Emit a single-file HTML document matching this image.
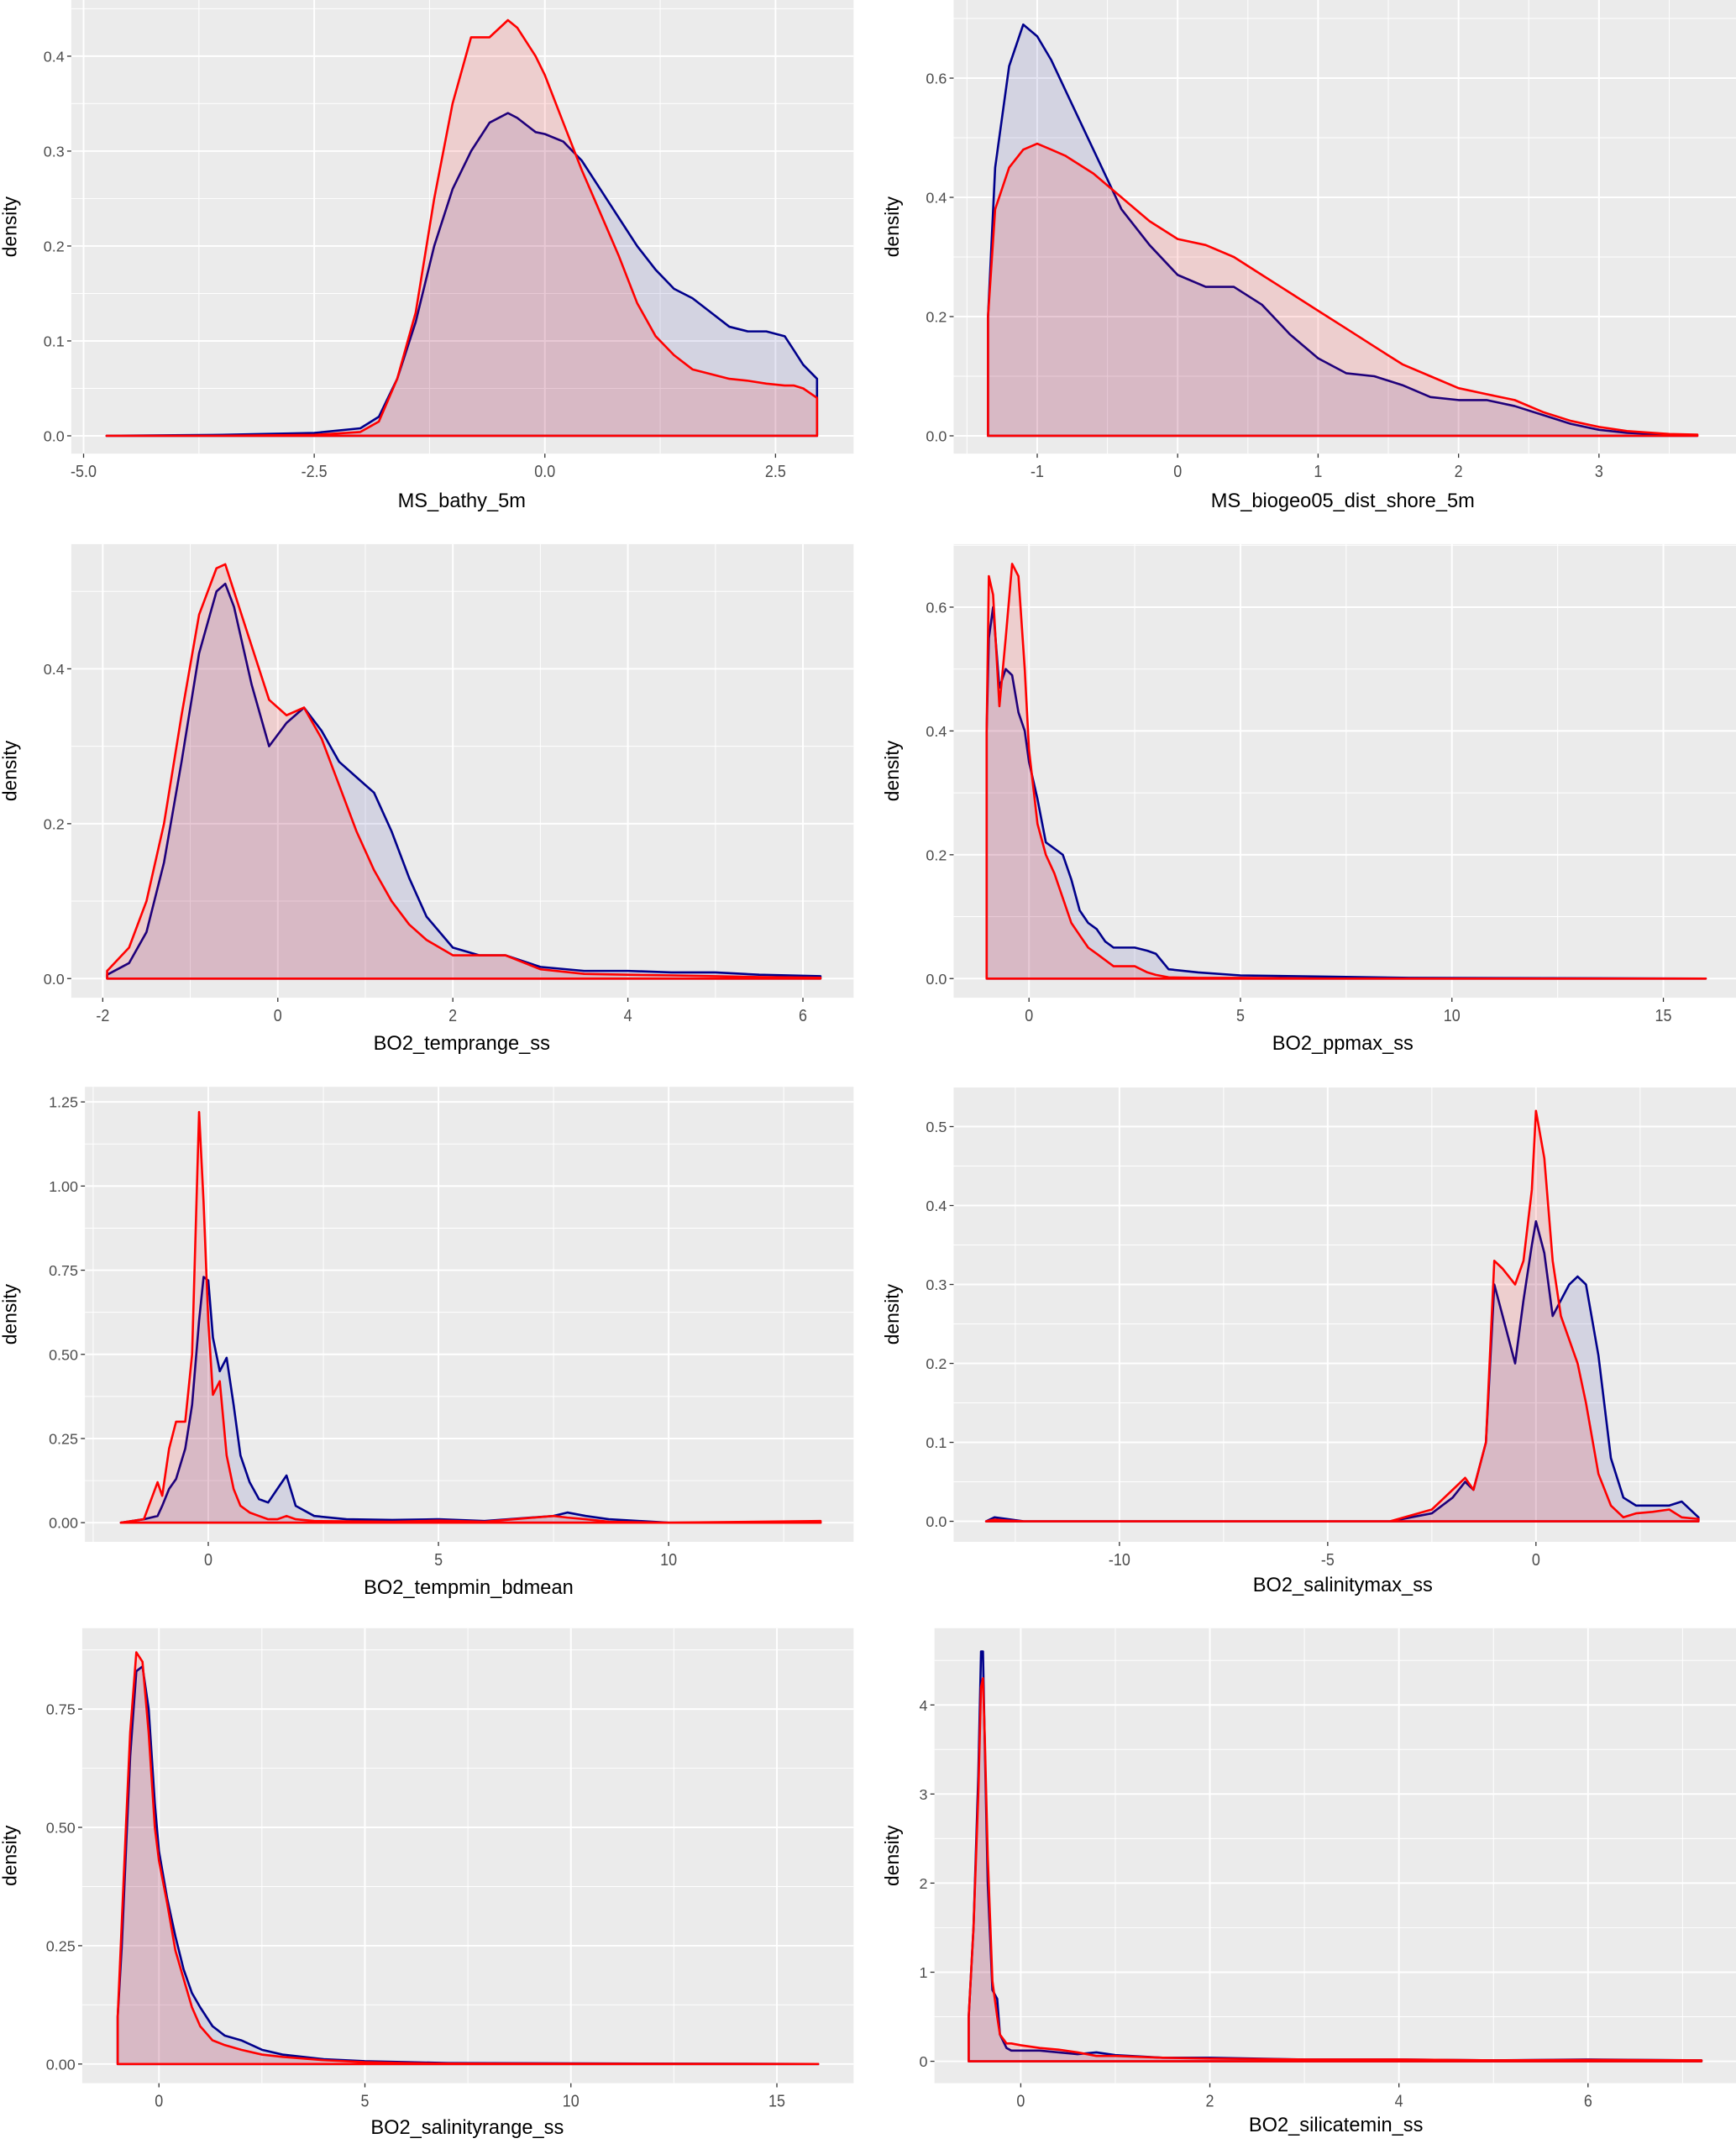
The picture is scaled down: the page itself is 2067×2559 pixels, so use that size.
<!DOCTYPE html>
<html><head><meta charset="utf-8"><style>
html,body{margin:0;padding:0;background:#fff;}
svg{display:block;}
text{font-family:"Liberation Sans",sans-serif;}
</style></head><body>
<svg id="chart" width="2067" height="2559" viewBox="0 0 1267 1568" preserveAspectRatio="none" xmlns="http://www.w3.org/2000/svg"></svg>
<script>
// ---- data (one set of small arrays per panel) ----
const p1X=[-4.75,-3.5,-2.5,-2.0,-1.8,-1.6,-1.4,-1.2,-1.0,-0.8,-0.6,-0.4,-0.3,-0.1,0.0,0.2,0.4,0.6,0.8,1.0,1.2,1.4,1.6,1.8,2.0,2.2,2.4,2.6,2.7,2.8,2.95];
const p1Blue=[0,0.001,0.003,0.008,0.02,0.06,0.12,0.2,0.26,0.3,0.33,0.34,0.335,0.32,0.318,0.31,0.29,0.26,0.23,0.2,0.175,0.155,0.145,0.13,0.115,0.11,0.11,0.105,0.09,0.075,0.06];
const p1Red=[0,0,0.001,0.004,0.015,0.06,0.13,0.25,0.35,0.42,0.42,0.438,0.43,0.4,0.38,0.33,0.28,0.235,0.19,0.14,0.105,0.085,0.07,0.065,0.06,0.058,0.055,0.053,0.053,0.05,0.04];
const p1XTicks=[-5,-2.5,0,2.5]; const p1XLabels=["-5.0","-2.5","0.0","2.5"];
const p1YTicks=[0,0.1,0.2,0.3,0.4]; const p1YLabels=["0.0","0.1","0.2","0.3","0.4"];

const p2X=[-1.35,-1.3,-1.2,-1.1,-1.0,-0.9,-0.8,-0.6,-0.4,-0.2,0,0.2,0.4,0.6,0.8,1.0,1.2,1.4,1.6,1.8,2.0,2.2,2.4,2.6,2.8,3.0,3.2,3.5,3.7];
const p2Blue=[0.2,0.45,0.62,0.69,0.67,0.63,0.58,0.48,0.38,0.32,0.27,0.25,0.25,0.22,0.17,0.13,0.105,0.1,0.085,0.065,0.06,0.06,0.05,0.035,0.02,0.01,0.005,0.002,0];
const p2Red=[0.2,0.38,0.45,0.48,0.49,0.48,0.47,0.44,0.4,0.36,0.33,0.32,0.3,0.27,0.24,0.21,0.18,0.15,0.12,0.1,0.08,0.07,0.06,0.04,0.025,0.015,0.008,0.003,0.002];
const p2XTicks=[-1,0,1,2,3]; const p2XLabels=["-1","0","1","2","3"];
const p2YTicks=[0,0.2,0.4,0.6]; const p2YLabels=["0.0","0.2","0.4","0.6"];

const p3X=[-1.95,-1.7,-1.5,-1.3,-1.1,-0.9,-0.7,-0.6,-0.5,-0.3,-0.1,0.1,0.3,0.5,0.7,0.9,1.1,1.3,1.5,1.7,2.0,2.3,2.6,3.0,3.5,4.0,4.5,5.0,5.5,6.2];
const p3Blue=[0.005,0.02,0.06,0.15,0.28,0.42,0.5,0.51,0.48,0.38,0.3,0.33,0.35,0.32,0.28,0.26,0.24,0.19,0.13,0.08,0.04,0.03,0.03,0.015,0.01,0.01,0.008,0.008,0.005,0.003];
const p3Red=[0.01,0.04,0.1,0.2,0.34,0.47,0.53,0.535,0.5,0.43,0.36,0.34,0.35,0.31,0.25,0.19,0.14,0.1,0.07,0.05,0.03,0.03,0.03,0.012,0.006,0.005,0.004,0.003,0.002,0.001];
const p3XTicks=[-2,0,2,4,6]; const p3XLabels=["-2","0","2","4","6"];
const p3YTicks=[0,0.2,0.4]; const p3YLabels=["0.0","0.2","0.4"];

const p4X=[-1,-0.95,-0.85,-0.7,-0.55,-0.4,-0.25,-0.1,0,0.2,0.4,0.6,0.8,1.0,1.2,1.4,1.6,1.8,2.0,2.5,2.8,3.0,3.3,4,5,7,9,16];
const p4Blue=[0.4,0.55,0.6,0.47,0.5,0.49,0.43,0.4,0.35,0.29,0.22,0.21,0.2,0.16,0.11,0.09,0.08,0.06,0.05,0.05,0.045,0.04,0.015,0.01,0.005,0.003,0.001,0];
const p4Red=[0.4,0.65,0.62,0.44,0.55,0.67,0.65,0.5,0.37,0.25,0.2,0.17,0.13,0.09,0.07,0.05,0.04,0.03,0.02,0.02,0.01,0.006,0.002,0.001,0.001,0,0,0];
const p4XTicks=[0,5,10,15]; const p4XLabels=["0","5","10","15"];
const p4YTicks=[0,0.2,0.4,0.6]; const p4YLabels=["0.0","0.2","0.4","0.6"];

const p5X=[-1.9,-1.4,-1.1,-1.0,-0.85,-0.7,-0.5,-0.35,-0.2,-0.1,0,0.1,0.25,0.4,0.55,0.7,0.9,1.1,1.3,1.5,1.7,1.9,2.3,3,4,5,6,7.5,7.8,8.2,8.7,10,13.3];
const p5Blue=[0,0.01,0.02,0.05,0.1,0.13,0.22,0.35,0.6,0.73,0.72,0.55,0.45,0.49,0.35,0.2,0.12,0.07,0.06,0.1,0.14,0.05,0.02,0.01,0.008,0.01,0.005,0.02,0.03,0.02,0.01,0,0];
const p5Red=[0,0.01,0.12,0.08,0.22,0.3,0.3,0.5,1.22,0.95,0.6,0.38,0.42,0.2,0.1,0.05,0.03,0.02,0.01,0.01,0.02,0.01,0.005,0.004,0.003,0.006,0.003,0.02,0.015,0.01,0.003,0,0.005];
const p5XTicks=[0,5,10]; const p5XLabels=["0","5","10"];
const p5YTicks=[0,0.25,0.5,0.75,1.0,1.25]; const p5YLabels=["0.00","0.25","0.50","0.75","1.00","1.25"];

const p6X=[-13.2,-13,-12.7,-12.3,-3.5,-2.5,-2,-1.7,-1.5,-1.2,-1.0,-0.8,-0.5,-0.3,-0.1,0,0.2,0.4,0.6,0.8,1.0,1.2,1.5,1.8,2.1,2.4,2.8,3.2,3.5,3.9];
const p6Blue=[0,0.005,0.003,0,0,0.01,0.03,0.05,0.04,0.1,0.3,0.26,0.2,0.28,0.35,0.38,0.34,0.26,0.28,0.3,0.31,0.3,0.21,0.08,0.03,0.02,0.02,0.02,0.025,0.005];
const p6Red=[0,0.002,0.001,0,0,0.015,0.04,0.055,0.04,0.1,0.33,0.32,0.3,0.33,0.42,0.52,0.46,0.33,0.26,0.23,0.2,0.15,0.06,0.02,0.005,0.01,0.012,0.015,0.005,0.003];
const p6XTicks=[-10,-5,0]; const p6XLabels=["-10","-5","0"];
const p6YTicks=[0,0.1,0.2,0.3,0.4,0.5]; const p6YLabels=["0.0","0.1","0.2","0.3","0.4","0.5"];

const p7X=[-1,-0.9,-0.8,-0.7,-0.55,-0.4,-0.25,-0.1,0,0.2,0.4,0.6,0.8,1.0,1.3,1.6,2,2.5,3,4,5,6,7,16];
const p7Blue=[0.1,0.25,0.45,0.65,0.83,0.84,0.75,0.55,0.45,0.35,0.27,0.2,0.15,0.12,0.08,0.06,0.05,0.03,0.02,0.01,0.006,0.004,0.002,0];
const p7Red=[0.1,0.3,0.5,0.7,0.87,0.85,0.7,0.5,0.43,0.34,0.24,0.18,0.12,0.08,0.05,0.04,0.03,0.02,0.015,0.008,0.004,0.002,0.001,0];
const p7XTicks=[0,5,10,15]; const p7XLabels=["0","5","10","15"];
const p7YTicks=[0,0.25,0.5,0.75]; const p7YLabels=["0.00","0.25","0.50","0.75"];

const p8X=[-0.55,-0.5,-0.45,-0.42,-0.4,-0.38,-0.35,-0.3,-0.25,-0.22,-0.15,-0.1,0,0.2,0.4,0.6,0.8,1.0,1.5,2,3,4,5,6,7.2];
const p8Blue=[0.5,1.5,3.2,4.6,4.6,3.5,2.0,0.8,0.7,0.3,0.15,0.12,0.12,0.12,0.1,0.08,0.1,0.07,0.04,0.04,0.02,0.02,0.01,0.02,0.01];
const p8Red=[0.5,1.5,3.0,4.2,4.3,3.6,2.3,0.9,0.5,0.3,0.2,0.2,0.18,0.15,0.13,0.1,0.06,0.06,0.04,0.03,0.02,0.02,0.01,0.015,0.01];
const p8XTicks=[0,2,4,6]; const p8XLabels=["0","2","4","6"];
const p8YTicks=[0,1,2,3,4]; const p8YLabels=["0","1","2","3","4"];

// ---- layout ----
const panels=[
 {name:"ms-bathy",title:"MS_bathy_5m",x:p1X,b:p1Blue,r:p1Red,xt:p1XTicks,xl:p1XLabels,yt:p1YTicks,yl:p1YLabels,L:52,R:623,T:0,B:331,xc:[-5,61,2.5,566],yc:[0,318,0.4,41],tx:337,ty:370,dx:12},
 {name:"ms-dist-shore",title:"MS_biogeo05_dist_shore_5m",x:p2X,b:p2Blue,r:p2Red,xt:p2XTicks,xl:p2XLabels,yt:p2YTicks,yl:p2YLabels,L:696,R:1267,T:0,B:331,xc:[-1,757,3,1167],yc:[0,318,0.6,57],tx:980,ty:370,dx:656},
 {name:"bo2-temprange",title:"BO2_temprange_ss",x:p3X,b:p3Blue,r:p3Red,xt:p3XTicks,xl:p3XLabels,yt:p3YTicks,yl:p3YLabels,L:52,R:623,T:397,B:728,xc:[-2,75,6,586],yc:[0,714,0.4,488],tx:337,ty:766,dx:12},
 {name:"bo2-ppmax",title:"BO2_ppmax_ss",x:p4X,b:p4Blue,r:p4Red,xt:p4XTicks,xl:p4XLabels,yt:p4YTicks,yl:p4YLabels,L:696,R:1267,T:397,B:728,xc:[0,751,15,1214],yc:[0,714,0.6,443],tx:980,ty:766,dx:656},
 {name:"bo2-tempmin",title:"BO2_tempmin_bdmean",x:p5X,b:p5Blue,r:p5Red,xt:p5XTicks,xl:p5XLabels,yt:p5YTicks,yl:p5YLabels,L:62,R:623,T:793,B:1125,xc:[0,152,10,488],yc:[0,1111,1.25,804],tx:342,ty:1163,dx:12},
 {name:"bo2-salinitymax",title:"BO2_salinitymax_ss",x:p6X,b:p6Blue,r:p6Red,xt:p6XTicks,xl:p6XLabels,yt:p6YTicks,yl:p6YLabels,L:696,R:1267,T:793,B:1125,xc:[-10,817,0,1121],yc:[0,1110,0.5,822],tx:980,ty:1161,dx:656},
 {name:"bo2-salinityrange",title:"BO2_salinityrange_ss",x:p7X,b:p7Blue,r:p7Red,xt:p7XTicks,xl:p7XLabels,yt:p7YTicks,yl:p7YLabels,L:60,R:623,T:1188,B:1520,xc:[0,116,15,567],yc:[0,1506,0.75,1247],tx:341,ty:1557,dx:12},
 {name:"bo2-silicatemin",title:"BO2_silicatemin_ss",x:p8X,b:p8Blue,r:p8Red,xt:p8XTicks,xl:p8XLabels,yt:p8YTicks,yl:p8YLabels,L:682,R:1267,T:1188,B:1520,xc:[0,745,6,1159],yc:[0,1504,4,1244],tx:975,ty:1555,dx:656}
];
const NS="http://www.w3.org/2000/svg";
const svg=document.getElementById('chart');
function mk(tag,attrs,parent){const e=document.createElementNS(NS,tag);for(const k in attrs)e.setAttribute(k,attrs[k]);parent.appendChild(e);return e;}

panels.forEach(p=>{
 const g=mk('g',{},svg);
 
 
 const sx=v=>p.xc[1]+(v-p.xc[0])*(p.xc[3]-p.xc[1])/(p.xc[2]-p.xc[0]);
 const sy=v=>p.yc[1]+(v-p.yc[0])*(p.yc[3]-p.yc[1])/(p.yc[2]-p.yc[0]);
 const bg=mk('rect',{x:p.L,y:p.T,width:p.R-p.L,height:p.B-p.T,fill:'#EBEBEB'},g);
 
 
 const xstep=p.xt[1]-p.xt[0], ystep=p.yt[1]-p.yt[0];
 for(let v=p.xt[0]-xstep*3+xstep/2; v<p.xt[p.xt.length-1]+xstep*3; v+=xstep){const X=sx(v); if(X>p.L&&X<p.R) mk('line',{x1:X,x2:X,y1:p.T,y2:p.B,stroke:'#fff','stroke-width':0.6},g);}
 for(let v=p.yt[0]-ystep/2; v<p.yt[p.yt.length-1]+ystep*3; v+=ystep){const Y=sy(v); if(Y>p.T&&Y<p.B) mk('line',{x1:p.L,x2:p.R,y1:Y,y2:Y,stroke:'#fff','stroke-width':0.6},g);}
 p.xt.forEach((v,i)=>{const X=sx(v);
  mk('line',{x1:X,x2:X,y1:p.T,y2:p.B,stroke:'#fff','stroke-width':1.2},g);
  mk('line',{x1:X,x2:X,y1:p.B,y2:p.B+3,stroke:'#333','stroke-width':0.8},g);
  const t=mk('text',{x:X,y:p.B+17,'text-anchor':'middle','font-size':11,fill:'#4D4D4D',transform:'translate(0 '+(p.B+17)+') scale(1 1.15) translate(0 '+(-(p.B+17))+')'},g);t.textContent=p.xl[i];
  
  });
 p.yt.forEach((v,i)=>{const Y=sy(v);
  mk('line',{x1:p.L,x2:p.R,y1:Y,y2:Y,stroke:'#fff','stroke-width':1.2},g);
  mk('line',{x1:p.L-3,x2:p.L,y1:Y,y2:Y,stroke:'#333','stroke-width':0.8},g);
  const t=mk('text',{x:p.L-5,y:Y+4,'text-anchor':'end','font-size':11,fill:'#4D4D4D'},g);t.textContent=p.yl[i];
  
  });
 [['b','#00008B','rgba(0,0,139,0.10)','blue'],['r','#FF0000','rgba(255,0,0,0.12)','red']].forEach(s=>{
  const ys=p[s[0]];
  let d='M'+sx(p.x[0]).toFixed(1)+','+sy(0).toFixed(1);
  p.x.forEach((v,i)=>{d+=' L'+sx(v).toFixed(1)+','+sy(ys[i]).toFixed(1);});
  d+=' L'+sx(p.x[p.x.length-1]).toFixed(1)+','+sy(0).toFixed(1)+' Z';
  const path=mk('path',{d:d,fill:s[2],stroke:s[1],'stroke-width':1.6,'stroke-linejoin':'round'},g);
  
  
 });
 const xt=mk('text',{x:p.tx,y:p.ty,'text-anchor':'middle','font-size':14.5,fill:'#000'},g);xt.textContent=p.title;
 
 
 const ym=(p.T+p.B)/2;
 const yt=mk('text',{x:p.dx,y:ym,'text-anchor':'middle','font-size':14,fill:'#000',transform:'rotate(-90 '+p.dx+' '+ym+')'},g);yt.textContent='density';
 
 
});
</script>
</body></html>
